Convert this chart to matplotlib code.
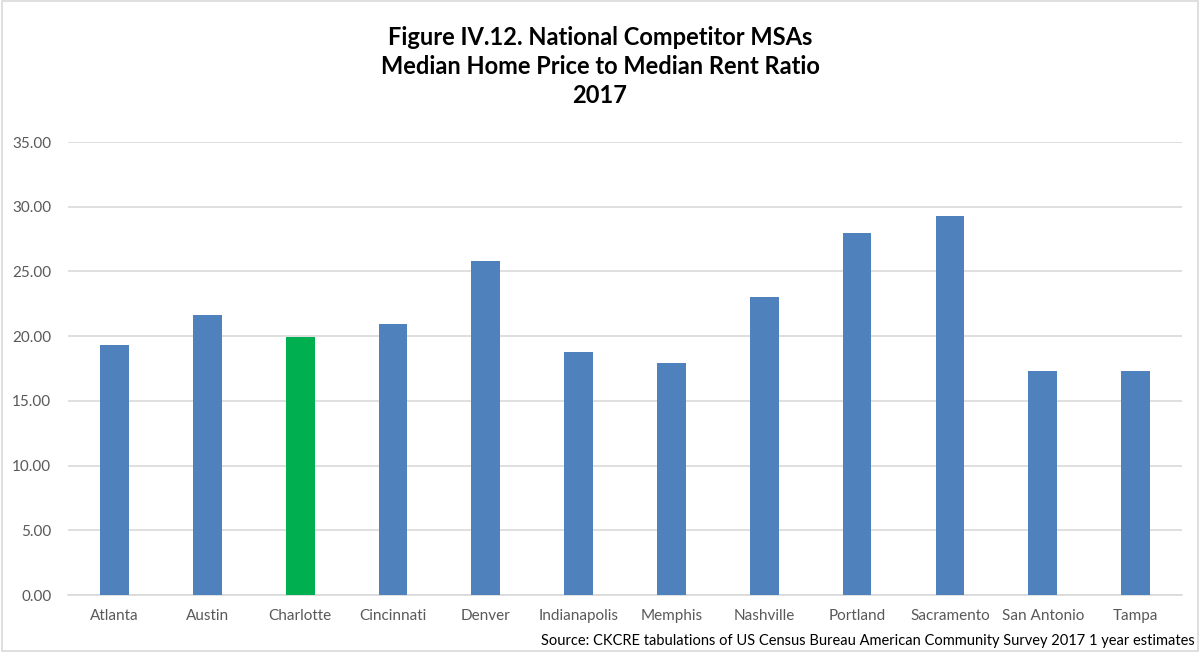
import matplotlib.pyplot as plt
from matplotlib.patches import Rectangle
from matplotlib.ticker import FormatStrFormatter

cities = ["Atlanta", "Austin", "Charlotte", "Cincinnati", "Denver", "Indianapolis",
          "Memphis", "Nashville", "Portland", "Sacramento", "San Antonio", "Tampa"]
ratios = [19.33, 21.60, 19.95, 20.95, 25.83, 18.79, 17.94, 23.03, 27.96, 29.32, 17.33, 17.33]
highlight = "Charlotte"

plt.rcParams["font.family"] = ["Lato", "DejaVu Sans"]

fig = plt.figure(figsize=(12, 6.52), dpi=100)
ax = fig.add_axes([0.0567, 0.0874, 0.9283, 0.6948])

colors = ["#00B050" if c == highlight else "#4F81BD" for c in cities]
x = range(len(cities))
ax.bar(x, ratios, width=0.31, color=colors, zorder=3)

ax.set_xlim(-0.5, len(cities) - 0.5)
ax.set_ylim(0, 35)
ax.set_yticks([0, 5, 10, 15, 20, 25, 30, 35])
ax.yaxis.set_major_formatter(FormatStrFormatter("%.2f"))
ax.set_xticks(list(x))
ax.set_xticklabels(cities)
ax.tick_params(axis="both", length=0, labelsize=11, labelcolor="#595959")
ax.tick_params(axis="x", pad=10)
ax.tick_params(axis="y", pad=12)

ax.grid(axis="y", color="#D9D9D9", linewidth=1.2, zorder=0)
for side in ["top", "right", "left"]:
    ax.spines[side].set_visible(False)
ax.spines["bottom"].set_color("#D9D9D9")
ax.spines["bottom"].set_linewidth(1.2)

fig.text(0.5, 0.898,
         "Figure IV.12. National Competitor MSAs\nMedian Home Price to Median Rent Ratio\n2017",
         ha="center", va="center", fontsize=17, fontweight="bold", linespacing=1.3)

fig.text(0.996, 0.006,
         "Source: CKCRE tabulations of US Census Bureau American Community Survey 2017 1 year estimates",
         ha="right", va="bottom", fontsize=10.5, color="black")

# thin chart-area border
fig.patches.append(Rectangle((0.002, 0.002), 0.996, 0.996, transform=fig.transFigure,
                             fill=False, edgecolor="#D9D9D9", linewidth=1.2))

fig.savefig("out.png", dpi=100)
